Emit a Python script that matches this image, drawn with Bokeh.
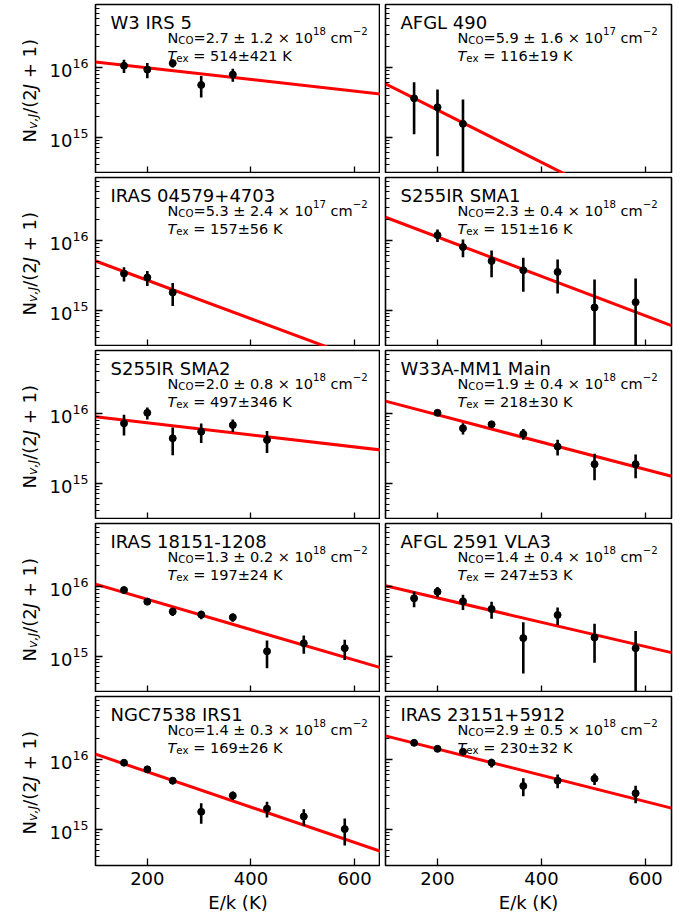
import math
import numpy as np
from bokeh.plotting import figure
from bokeh.layouts import column, row
from bokeh.models import Range1d, Label, FixedTicker
from bokeh.embed import file_html
from bokeh.resources import INLINE

FONT = "DejaVu Sans"

# ---------------- data ----------------
E_ALL = [155, 200, 249, 304, 365, 431, 502, 581]
FIT_E = [100, 650]

w3_E = E_ALL[:5]
w3_y = [1.06e16, 9.3e15, 1.15e16, 5.6e15, 7.9e15]
w3_err = [2.3e15, 2.3e15, 1.5e15, 1.9e15, 1.7e15]
w3_fit = [1.2e16, 4.16e15]

afgl490_E = E_ALL[:3]
afgl490_y = [3.6e15, 2.68e15, 1.55e15]
afgl490_err = [2.5e15, 2.15e15, 1.9e15]
afgl490_fit = [5.8e15, 5.0e13]

iras04579_E = E_ALL[:3]
iras04579_y = [3.34e15, 2.93e15, 1.79e15]
iras04579_err = [0.77e15, 0.71e15, 0.65e15]
iras04579_fit = [5.07e15, 1.53e14]

sma1_E = E_ALL[1:]
sma1_y = [1.19e16, 8.03e15, 5.07e15, 3.73e15, 3.53e15, 1.09e15, 1.3e15]
sma1_err = [2.4e15, 2.3e15, 2.1e15, 1.9e15, 1.8e15, 1.65e15, 1.55e15]
sma1_fit = [2.15e16, 5.97e14]

sma2_E = E_ALL[:6]
sma2_y = [7.2e15, 1.02e16, 4.4e15, 5.47e15, 6.81e15, 4.16e15]
sma2_err = [2.4e15, 2.0e15, 1.9e15, 1.7e15, 1.4e15, 1.45e15]
sma2_fit = [8.96e15, 2.99e15]

w33a_E = E_ALL[1:]
w33a_y = [1.02e16, 6.1e15, 6.97e15, 5.07e15, 3.34e15, 1.87e15, 1.87e15]
w33a_err = [0.9e15, 1.1e15, 0.75e15, 0.88e15, 0.85e15, 0.77e15, 0.7e15]
w33a_fit = [1.5e16, 1.25e15]

iras18151_E = E_ALL
iras18151_y = [8.87e15, 6.04e15, 4.35e15, 3.94e15, 3.6e15, 1.17e15, 1.53e15, 1.3e15]
iras18151_err = [0.5e15, 0.6e15, 0.6e15, 0.55e15, 0.5e15, 0.5e15, 0.45e15, 0.42e15]
iras18151_fit = [1.08e16, 6.81e14]

afgl2591_E = E_ALL
afgl2591_y = [6.74e15, 8.4e15, 6.1e15, 4.74e15, 1.81e15, 3.89e15, 1.85e15, 1.3e15]
afgl2591_err = [1.7e15, 1.4e15, 1.5e15, 1.3e15, 1.25e15, 1.1e15, 1.05e15, 1.0e15]
afgl2591_fit = [1.02e16, 1.12e15]

ngc7538_E = E_ALL
ngc7538_y = [8.96e15, 7.2e15, 4.95e15, 1.77e15, 3.03e15, 1.97e15, 1.52e15, 1.0e15]
ngc7538_err = [0.4e15, 0.4e15, 0.55e15, 0.58e15, 0.42e15, 0.5e15, 0.4e15, 0.42e15]
ngc7538_fit = [1.19e16, 4.8e14]

iras23151_E = E_ALL
iras23151_y = [1.73e16, 1.42e16, 1.29e16, 8.96e15, 4.16e15, 4.95e15, 5.29e15, 3.27e15]
iras23151_err = [1.0e15, 1.0e15, 0.8e15, 1.3e15, 1.2e15, 1.1e15, 1.0e15, 0.93e15]
iras23151_fit = [2.18e16, 2.0e15]

names = ["W3 IRS 5", "AFGL 490", "IRAS 04579+4703", "S255IR SMA1", "S255IR SMA2",
         "W33A-MM1 Main", "IRAS 18151-1208", "AFGL 2591 VLA3", "NGC7538 IRS1", "IRAS 23151+5912"]
nco_val = ["2.7", "5.9", "5.3", "2.3", "2.0", "1.9", "1.3", "1.4", "1.4", "2.9"]
nco_err = ["1.2", "1.6", "2.4", "0.4", "0.8", "0.4", "0.2", "0.4", "0.3", "0.5"]
nco_exp = ["18", "17", "17", "18", "18", "18", "18", "18", "18", "18"]
tex_val = ["514", "116", "157", "151", "497", "218", "197", "247", "169", "230"]
tex_err = ["421", "19", "56", "16", "346", "30", "24", "53", "26", "32"]

X_TICKS = [200, 400, 600]
Y_MAJOR = [1e15, 1e16]

panels = [
    (w3_E, w3_y, w3_err, w3_fit),
    (afgl490_E, afgl490_y, afgl490_err, afgl490_fit),
    (iras04579_E, iras04579_y, iras04579_err, iras04579_fit),
    (sma1_E, sma1_y, sma1_err, sma1_fit),
    (sma2_E, sma2_y, sma2_err, sma2_fit),
    (w33a_E, w33a_y, w33a_err, w33a_fit),
    (iras18151_E, iras18151_y, iras18151_err, iras18151_fit),
    (afgl2591_E, afgl2591_y, afgl2591_err, afgl2591_fit),
    (ngc7538_E, ngc7538_y, ngc7538_err, ngc7538_fit),
    (iras23151_E, iras23151_y, iras23151_err, iras23151_fit),
]

# DejaVu Sans advance widths (units of 1/2048 em) for placing text pieces
ADV = {' ': 651, '.': 651, ',': 651, '=': 1716, '\u00b1': 1716, '\u00d7': 1716, '\u2212': 1716,
       '+': 1716, '/': 690, '(': 799, ')': 799, 'J': 604, 'v': 1212,
       'c': 1126, 'm': 1995, 'N': 1532, 'C': 1430, 'O': 1612, 'K': 1343,
       'T': 1251, 'e': 1260, 'x': 1212}


def tw(s, size):
    return sum(ADV.get(ch, 1303) for ch in s) / 2048.0 * size


FRAME_H = 169
BIG = 14.5
SMALL = 10.2
LABEL_W = 46


def add_pieces(p, x0, y0, pieces):
    x = x0
    for text, size, dy, style in pieces:
        lead = len(text) - len(text.lstrip(" "))
        x += tw(" " * lead, size)
        t = text.strip(" ")
        p.add_layout(Label(x=x, y=y0 + dy, x_units="screen", y_units="screen", text=t,
                           text_font=FONT, text_font_size=f"{size}px", text_font_style=style,
                           text_color="black", text_baseline="alphabetic", text_align="left"))
        x += tw(text.lstrip(" "), size)


def add_vertical_chars(p, x0, y0, pieces):
    # text rotated 90 deg (reads bottom to top), one glyph per label;
    # advance along +y, subscripts shift to +x
    y = y0
    for text, size, dx, style in pieces:
        for ch in text:
            if ch != " ":
                p.add_layout(Label(x=x0 + dx, y=y, x_units="screen", y_units="screen", text=ch,
                                   angle=math.pi / 2, text_font=FONT, text_font_size=f"{size}px",
                                   text_font_style=style, text_color="black",
                                   text_baseline="alphabetic", text_align="left"))
            y += tw(ch, size)


def make_ylabel_fig(bottom):
    q = figure(frame_width=LABEL_W, frame_height=FRAME_H, x_range=Range1d(0, 1), y_range=Range1d(0, 1),
               output_backend="svg", toolbar_location=None,
               min_border_left=0, min_border_right=0, min_border_top=4,
               min_border_bottom=50 if bottom else 0,
               background_fill_color="white", border_fill_color="white")
    q.axis.visible = False
    q.grid.visible = False
    q.outline_line_color = None
    add_vertical_chars(q, 28.5, 31, [
        ("N", 18, 0, "normal"),
        ("v,J", 12.6, 3.5, "italic"),
        ("/(2", 18, 0, "normal"),
        ("J", 18, 0, "italic"),
        (" + 1)", 18, 0, "normal"),
    ])
    return q


def make_panel(i):
    col = i % 2
    r = i // 2
    left = col == 0
    bottom = r == 4
    Es, ys, errs, fit = panels[i]
    p = figure(frame_width=285 if left else 286, frame_height=FRAME_H,
               x_range=Range1d(100, 650), y_range=Range1d(3e14, 8e16),
               y_axis_type="log", output_backend="svg", toolbar_location=None,
               min_border_left=(95 - LABEL_W) if left else 5, min_border_right=0 if left else 12,
               min_border_top=4, min_border_bottom=50 if bottom else 0,
               background_fill_color="white", border_fill_color="white")
    p.grid.visible = False
    p.outline_line_color = "black"
    p.outline_line_width = 1.6
    p.outline_line_alpha = 1.0

    ys_a = np.array(ys)
    er_a = np.array(errs)
    lo = np.maximum(ys_a - er_a, 1e13)
    hi = ys_a + er_a
    p.line(FIT_E, fit, line_color="#ff0000", line_width=3)
    p.segment(x0=Es, y0=lo, x1=Es, y1=hi, line_color="black", line_width=2.6)
    p.scatter(Es, ys, size=7, fill_color="black", line_color="black")

    for ax in (p.xaxis[0], p.yaxis[0]):
        ax.axis_line_color = None
        ax.major_tick_in = 7
        ax.major_tick_out = 0
        ax.minor_tick_in = 4
        ax.minor_tick_out = 0
        ax.major_tick_line_color = "black"
        ax.minor_tick_line_color = "black"
        ax.major_tick_line_width = 1.3
        ax.minor_tick_line_width = 1.0
        ax.major_label_text_font = FONT
        ax.major_label_text_font_size = "18px"
        ax.major_label_text_color = "black"
        ax.axis_label_text_font = FONT
        ax.axis_label_text_font_size = "18px"
        ax.axis_label_text_font_style = "normal"
        ax.axis_label_text_color = "black"

    p.xaxis.ticker = FixedTicker(ticks=X_TICKS)
    if bottom:
        p.xaxis.major_label_standoff = 6
        p.xaxis.axis_label = "E/k (K)"
        p.xaxis.axis_label_standoff = 4
    else:
        p.xaxis.major_label_overrides = {t: "" for t in X_TICKS}
        p.xaxis.major_label_text_font_size = "1px"
        p.xaxis.major_label_standoff = 0
    if left:
        p.yaxis.major_label_standoff = 7
    else:
        p.yaxis.major_label_overrides = {t: "" for t in Y_MAJOR}
        p.yaxis.major_label_text_font_size = "1px"
        p.yaxis.major_label_standoff = 0

    # panel title
    p.add_layout(Label(x=15, y=FRAME_H - 17.7, x_units="screen", y_units="screen",
                       text=names[i], text_font=FONT, text_font_size="18px",
                       text_color="black", text_baseline="alphabetic"))
    # N_CO line
    add_pieces(p, 72, FRAME_H - 33.3, [
        ("N", BIG, 0, "normal"),
        ("CO", SMALL, -2.5, "normal"),
        ("=" + nco_val[i] + " \u00b1 " + nco_err[i] + " \u00d7 10", BIG, 0, "normal"),
        (nco_exp[i], SMALL, 6.5, "normal"),
        (" cm", BIG, 0, "normal"),
        ("\u22122", SMALL, 6.5, "normal"),
    ])
    # T_ex line
    add_pieces(p, 72, FRAME_H - 51, [
        ("T", BIG, 0, "italic"),
        ("ex", SMALL, -2.5, "normal"),
        (" = " + tex_val[i] + "\u00b1" + tex_err[i] + " K", BIG, 0, "normal"),
    ])
    return p


figs = [make_panel(i) for i in range(10)]
layout = column([row(make_ylabel_fig(r == 4), figs[2 * r], figs[2 * r + 1]) for r in range(5)])

open("out.html", "w").write(file_html(layout, INLINE))
